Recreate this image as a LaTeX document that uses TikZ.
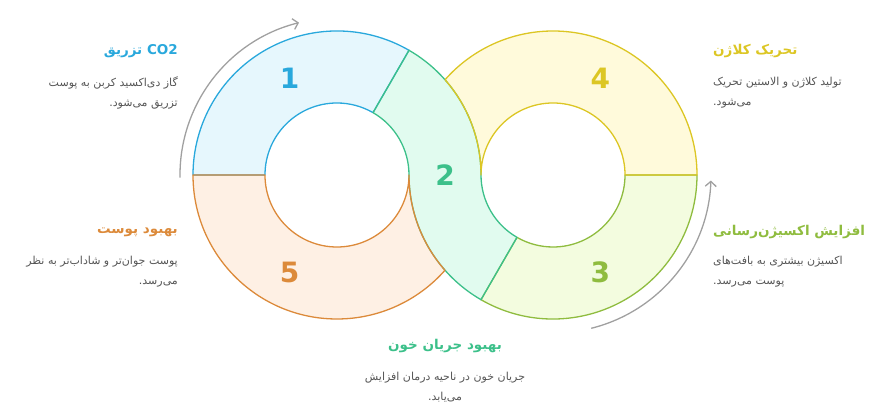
\documentclass[tikz,border=0pt]{standalone}
\usepackage{fontspec}
\setmainfont{DejaVu Sans}
\newfontfamily\fafont[Script=Arabic]{DejaVu Sans}
\TeXXeTstate=1
\usetikzlibrary{arrows.meta}

\definecolor{sblue}{HTML}{29A8DC}
\definecolor{fblue}{HTML}{E6F7FD}
\definecolor{sgreen}{HTML}{3CC08A}
\definecolor{fgreen}{HTML}{E1FBEF}
\definecolor{slime}{HTML}{8FBC3F}
\definecolor{flime}{HTML}{F3FCDF}
\definecolor{syellow}{HTML}{DCC624}
\definecolor{fyellow}{HTML}{FFFADB}
\definecolor{sorange}{HTML}{DC8A3A}
\definecolor{forange}{HTML}{FEF0E4}
\definecolor{bodygray}{HTML}{555555}
\definecolor{loopgray}{HTML}{A0A0A0}

% ring segments, left centre (cl), right centre (cr)
\newcommand\segone{([shift={(60:144)}]cl) arc[start angle=60,end angle=180,radius=144] -- ([shift={(180:72)}]cl) arc[start angle=180,end angle=60,radius=72] -- cycle}
\newcommand\segtwo{([shift={(60:144)}]cl) arc[start angle=60,end angle=0,radius=144] arc[start angle=180,end angle=240,radius=72] -- ([shift={(240:144)}]cr) arc[start angle=240,end angle=180,radius=144] arc[start angle=0,end angle=60,radius=72] -- cycle}
\newcommand\segthree{([shift={(240:144)}]cr) arc[start angle=240,end angle=360,radius=144] -- ([shift={(0:72)}]cr) arc[start angle=360,end angle=240,radius=72] -- cycle}
\newcommand\segfour{([shift={(0:144)}]cr) arc[start angle=0,end angle=138.59,radius=144] arc[start angle=41.41,end angle=0,radius=144] arc[start angle=180,end angle=0,radius=72] -- cycle}
\newcommand\segfive{([shift={(180:144)}]cl) arc[start angle=180,end angle=318.59,radius=144] arc[start angle=221.41,end angle=180,radius=144] arc[start angle=360,end angle=180,radius=72] -- cycle}

\begin{document}
\begin{tikzpicture}[x=1pt, y=1pt,
		seg/.style={line width=1.3pt, line join=round},
		num/.style={font=\fontsize{28}{28}\selectfont\bfseries},
		title/.style={font=\fafont\bfseries\fontsize{13.5}{16}\selectfont, inner sep=0pt},
		body/.style={font=\fafont\fontsize{11}{20}\selectfont, text=bodygray, inner sep=0pt},
		loop/.style={draw=loopgray, line width=1.3pt, -{Straight Barb[length=5pt,width=11pt]}}]
				\useasboundingbox (0,0) rectangle (872,414);
				\coordinate (cl) at (337,239);
				\coordinate (cr) at (553,239);
				% Fills:
				\fill[fblue] \segone;
				\fill[fgreen] \segtwo;
				\fill[flime] \segthree;
				\fill[fyellow] \segfour;
				\fill[forange] \segfive;
				% Outlines:
				\draw[seg, sblue] \segone;
				\draw[seg, slime] \segthree;
				\draw[seg, sgreen] \segtwo;
				\draw[seg, syellow] \segfour;
				\draw[seg, sorange] \segfive;
				% Loop arrows:
				\draw[loop] ([shift={(181:157)}]cl) arc[start angle=181,end angle=104,radius=157];
				\draw[loop] ([shift={(-76:158)}]cr) arc[start angle=-76,end angle=-2,radius=158];
				% Numbers:
				\node[num, text=sblue] (n1) at ([shift={(116:108)}]cl) {1};
				\node[num, text=sgreen] (n2) at (445,239) {2};
				\node[num, text=slime] (n3) at ([shift={(-64:108)}]cr) {3};
				\node[num, text=syellow] (n4) at ([shift={(64:108)}]cr) {4};
				\node[num, text=sorange] (n5) at ([shift={(-116:108)}]cl) {5};
				% Labels:
				\node[title, text=sblue, anchor=east] (t1) at (178,363) {\beginR CO2 تزریق\endR};
				\node[body, anchor=east, align=right] (b1) at (178,321) {\beginR گاز دی‌اکسید کربن به پوست\endR\\\beginR تزریق می‌شود.\endR};
				\node[title, text=syellow, anchor=west] (t4) at (713,363) {\beginR تحریک کلاژن\endR};
				\node[body, anchor=west, align=left] (b4) at (713,321) {\beginR تولید کلاژن و الاستین تحریک\endR\\\beginR می‌شود.\endR};
				\node[title, text=sorange, anchor=east] (t5) at (178,182) {\beginR بهبود پوست\endR};
				\node[body, anchor=east, align=right] (b5) at (178,142) {\beginR پوست جوان‌تر و شاداب‌تر به نظر\endR\\\beginR می‌رسد.\endR};
				\node[title, text=slime, anchor=west] (t3) at (713,182) {\beginR افزایش اکسیژن‌رسانی\endR};
				\node[body, anchor=west, align=left] (b3) at (713,142) {\beginR اکسیژن بیشتری به بافت‌های\endR\\\beginR پوست می‌رسد.\endR};
				\node[title, text=sgreen] (t2) at (445,68) {\beginR بهبود جریان خون\endR};
				\node[body, align=center] (b2) at (445,27) {\beginR جریان خون در ناحیه درمان افزایش\endR\\\beginR می‌یابد.\endR};
\end{tikzpicture}
\end{document}
